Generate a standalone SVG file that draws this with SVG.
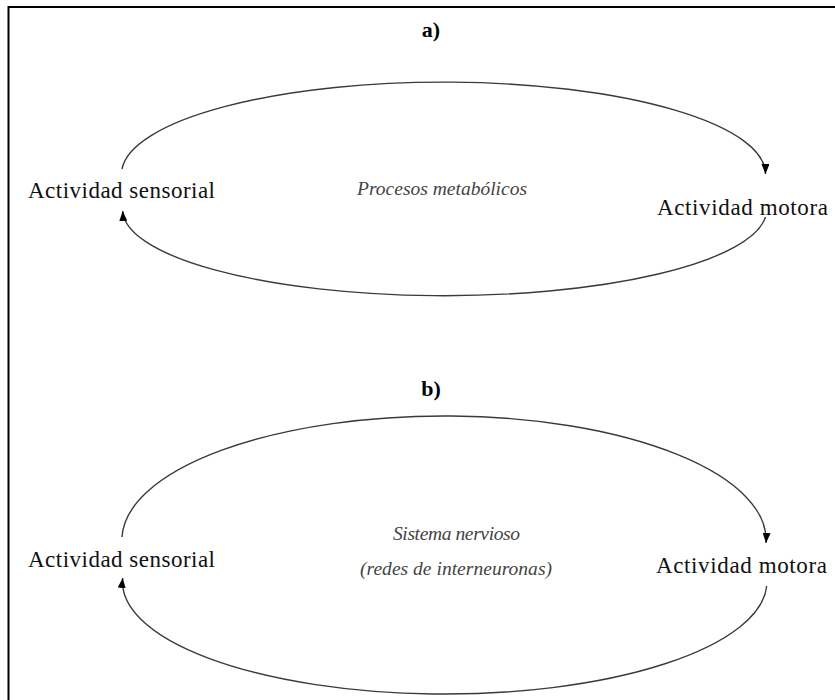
<svg xmlns="http://www.w3.org/2000/svg" width="835" height="700" viewBox="0 0 835 700">
  <style>
    text { font-family: 'Liberation Serif', 'DejaVu Serif', 'Times New Roman', serif; }
    .lbl { font-size: 23px; fill: #111; }
    .ttl { font-size: 22px; font-weight: bold; fill: #000; text-anchor: middle; }
    .mid { font-size: 19.5px; font-style: italic; fill: #444; }
    .arc { fill: none; stroke: #3a3a3a; stroke-width: 1.4; }
  </style>
  <defs>
    <marker id="ah" viewBox="0 0 10 8" refX="10" refY="4" markerWidth="10" markerHeight="8" markerUnits="userSpaceOnUse" orient="auto">
      <path d="M0,0 L10,4 L0,8 z" fill="#000"/>
    </marker>
  </defs>
  <rect width="835" height="700" fill="#fff"/>
  <path d="M8.5,700 V7 H835" fill="none" stroke="#000" stroke-width="2"/>

  <g id="connectors">
    <path class="arc" d="M122,169 A322,92 0 0 1 765.5,174" marker-end="url(#ah)"/>
    <path class="arc" d="M765.5,217 A322,86 0 0 1 122.7,211" marker-end="url(#ah)"/>
    <path class="arc" d="M122,537 A322,124 0 0 1 766,543" marker-end="url(#ah)"/>
    <path class="arc" d="M766.7,586 A322,112 0 0 1 122.7,578" marker-end="url(#ah)"/>
  </g>

  <g id="title-a"><text class="ttl" x="431" y="37" font-family="Liberation Serif, serif">a)</text></g>
  <g id="sensorial-a"><text class="lbl" x="28" y="198" textLength="187" font-family="Liberation Serif, serif">Actividad sensorial</text></g>
  <g id="motora-a"><text class="lbl" x="657" y="215" textLength="171" font-family="Liberation Serif, serif">Actividad motora</text></g>
  <g id="centro-a"><text class="mid" x="357" y="195" textLength="170" font-family="Liberation Serif, serif">Procesos metabólicos</text></g>

  <g id="title-b"><text class="ttl" x="431" y="396" font-family="Liberation Serif, serif">b)</text></g>
  <g id="sensorial-b"><text class="lbl" x="28" y="567" textLength="187" font-family="Liberation Serif, serif">Actividad sensorial</text></g>
  <g id="motora-b"><text class="lbl" x="656" y="573" textLength="171" font-family="Liberation Serif, serif">Actividad motora</text></g>
  <g id="centro-b">
    <text class="mid" x="393" y="540" textLength="127" font-family="Liberation Serif, serif">Sistema nervioso</text>
    <text class="mid" x="360" y="575" textLength="192" font-family="Liberation Serif, serif">(redes de interneuronas)</text>
  </g>
</svg>
